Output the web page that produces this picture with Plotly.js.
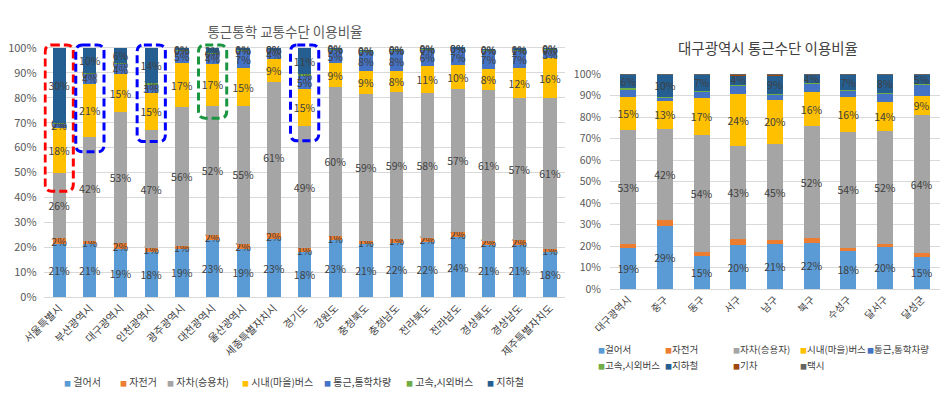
<!DOCTYPE html>
<html><head><meta charset="utf-8">
<script src="https://cdn.plot.ly/plotly-3.0.1.min.js"></script>
<style>html,body{margin:0;padding:0;background:#fff}#chart{width:941px;height:395px}</style>
</head><body><div id="chart"></div>
<script>
// ---------- Left chart: 통근통학 교통수단 이용비율 (시도별) ----------
const regions = ['서울특별시','부산광역시','대구광역시','인천광역시','광주광역시','대전광역시','울산광역시','세종특별자치시','경기도','강원도','충청북도','충청남도','전라북도','전라남도','경상북도','경상남도','제주특별자치도'];
const natNames = ['걸어서','자전거','자차(승용차)','시내(마을)버스','통근,통학차량','고속,시외버스','지하철'];
const natWalk    = [21.3, 21.2, 19.2, 18.2, 19.3, 22.8, 19.4, 23.2, 18.2, 22.9, 21.2, 21.8, 22.2, 24.0, 21.0, 20.9, 18.1];
const natBike    = [2.2, 1.3, 2.3, 1.4, 1.3, 2.1, 2.0, 2.4, 1.3, 1.4, 1.3, 1.4, 1.6, 2.0, 1.6, 1.8, 1.3];
const natCar     = [26.2, 41.8, 52.6, 47.3, 55.8, 51.9, 55.3, 60.8, 49.0, 60.2, 59.2, 59.1, 58.3, 57.4, 60.6, 57.1, 60.6];
const natBus     = [18.1, 21.2, 15.3, 15.2, 17.4, 16.8, 15.2, 9.1, 15.2, 9.3, 9.2, 8.4, 10.8, 9.6, 8.4, 12.2, 15.8];
const natCommute = [1.8, 4.2, 4.3, 3.2, 5.3, 4.2, 7.1, 3.7, 5.1, 5.4, 7.6, 8.1, 6.3, 6.6, 7.4, 6.8, 3.4];
const natExpress = [0.2, 0.4, 0.2, 0.6, 0.4, 0.3, 0.3, 0.3, 0.6, 0.4, 0.3, 0.4, 0.4, 0.3, 0.4, 0.6, 0.4];
const natSubway  = [30.2, 9.9, 6.1, 14.1, 0.3, 1.9, 0.4, 0.3, 10.6, 0.2, 0.2, 0.2, 0.2, 0.1, 0.1, 0.3, 0.2];

// ---------- Right chart: 대구광역시 통근수단 이용비율 ----------
const districts = ['대구광역시','중구','동구','서구','남구','북구','수성구','달서구','달성군'];
const dgNames = ['걸어서','자전거','자차(승용자)','시내(마을)버스','통근,통학차량','고속,시외버스','지하철','기차','택시'];
const dgWalk    = [19.2, 29.4, 15.2, 20.3, 21.0, 21.6, 17.8, 19.6, 15.0];
const dgBike    = [1.7, 2.5, 2.2, 3.0, 1.6, 1.9, 1.1, 1.4, 1.7];
const dgCar     = [53.0, 42.4, 54.3, 43.1, 44.9, 52.4, 54.3, 52.4, 64.2];
const dgBus     = [15.4, 13.3, 17.2, 24.4, 20.4, 15.6, 16.3, 13.7, 8.9];
const dgCommute = [3.6, 1.5, 2.8, 4.0, 2.4, 4.0, 2.6, 3.8, 5.1];
const dgExpress = [0.4, 0.3, 0.6, 0.3, 0.5, 0.5, 0.5, 0.4, 0.3];
const dgSubway  = [6.3, 10.4, 7.4, 4.3, 8.6, 3.7, 7.1, 8.4, 4.6];
const dgTrain   = [0.1, 0.1, 0.1, 0.4, 0.4, 0.1, 0.1, 0.1, 0.1];
const dgTaxi    = [0.3, 0.1, 0.2, 0.2, 0.2, 0.2, 0.2, 0.2, 0.1];
const dgLabeled = [true, false, true, true, false, false, true, false, false];

// ---------- styles ----------
const FONT = '"Noto Sans CJK KR", "Noto Sans", sans-serif';
const colors = ['#5B9BD5','#ED7D31','#A5A5A5','#FFC000','#4472C4','#70AD47','#255E91','#9E480E','#636363'];
const natSeries = [natWalk, natBike, natCar, natBus, natCommute, natExpress, natSubway];
const dgSeries = [dgWalk, dgBike, dgCar, dgBus, dgCommute, dgExpress, dgSubway, dgTrain, dgTaxi];

const traces = [];
natSeries.forEach((vals, i) => {
  traces.push({
    type: 'bar', x: regions, y: vals, name: natNames[i], xaxis: 'x', yaxis: 'y',
    marker: {color: colors[i]}, showlegend: false,
    texttemplate: '%{y:.0f}%', textposition: 'inside', insidetextanchor: 'middle', textangle: 0,
    constraintext: 'none', cliponaxis: false,
    textfont: {family: FONT, size: 10.5, color: '#404040'},
    hovertemplate: '%{x}<br>' + natNames[i] + ': %{y:.1f}%<extra></extra>'
  });
});
dgSeries.forEach((vals, i) => {
  traces.push({
    type: 'bar', x: districts, y: vals, name: dgNames[i], xaxis: 'x2', yaxis: 'y2',
    marker: {color: colors[i]}, showlegend: false,
    texttemplate: dgLabeled[i] ? '%{y:.0f}%' : '', textposition: dgLabeled[i] ? 'inside' : 'none',
    insidetextanchor: 'middle', textangle: 0, constraintext: 'none', cliponaxis: false,
    textfont: {family: FONT, size: 10.5, color: '#404040'},
    hovertemplate: '%{x}<br>' + dgNames[i] + ': %{y:.1f}%<extra></extra>'
  });
});

// ---------- layout helpers ----------
const W = 941, H = 395;
const px = x => x / W;
const py = y => (H - y) / H;

// rounded dashed highlight boxes (category index, bottom %, top %)
function roundBox(ci, y0, y1) {
  const hw = 0.46, rx = 0.22, ry = 2.8;
  const xl = ci - hw, xr = ci + hw;
  return `M${xl + rx},${y1} L${xr - rx},${y1} Q${xr},${y1} ${xr},${y1 - ry} L${xr},${y0 + ry} Q${xr},${y0} ${xr - rx},${y0} L${xl + rx},${y0} Q${xl},${y0} ${xl},${y0 + ry} L${xl},${y1 - ry} Q${xl},${y1} ${xl + rx},${y1} Z`;
}
const boxes = [
  {ci: 0, y0: 42.5, y1: 101.2, c: '#FF0000'},
  {ci: 1, y0: 58.3, y1: 101.2, c: '#0000FF'},
  {ci: 3, y0: 62.4, y1: 101.2, c: '#0000FF'},
  {ci: 5, y0: 71.8, y1: 101.2, c: '#1A9641'},
  {ci: 8, y0: 62.7, y1: 101.2, c: '#0000FF'}
];
const shapes = boxes.map(b => ({
  type: 'path', xref: 'x', yref: 'y', path: roundBox(b.ci, b.y0, b.y1),
  line: {color: b.c, width: 3, dash: '8px,4px'}, layer: 'above'
}));

// legends as annotations
const annotations = [];
const natLegX = [62, 118, 165, 240, 322, 404, 485];
natNames.forEach((n, i) => {
  annotations.push({
    xref: 'paper', yref: 'paper', x: px(natLegX[i]), y: py(381), xanchor: 'left', yanchor: 'middle',
    showarrow: false, align: 'left',
    text: `<span style="color:${colors[i]};font-size:7px">■</span> ${n}`,
    font: {family: FONT, size: 10, color: '#404040'}
  });
});
const dgLegX = [596, 663, 731, 798, 865];
dgNames.forEach((n, i) => {
  const row = Math.floor(i / 5), col = i % 5;
  annotations.push({
    xref: 'paper', yref: 'paper', x: px(dgLegX[col]), y: py(row === 0 ? 349 : 365), xanchor: 'left', yanchor: 'middle',
    showarrow: false, align: 'left',
    text: `<span style="color:${colors[i]};font-size:7px">■</span>${n}`,
    font: {family: FONT, size: 9.5, color: '#404040'}
  });
});
annotations.push({
  xref: 'paper', yref: 'paper', x: px(768), y: py(48), xanchor: 'center', yanchor: 'middle',
  showarrow: false, text: '대구광역시 통근수단 이용비율',
  font: {family: FONT, size: 14.5, color: '#404040'}
});

const layout = {
  width: W, height: H,
  margin: {l: 0, r: 0, t: 0, b: 0},
  paper_bgcolor: '#ffffff', plot_bgcolor: '#ffffff',
  font: {family: FONT, color: '#404040'},
  barmode: 'stack', bargap: 0.57,
  showlegend: false,
  title: {text: '통근통학 교통수단 이용비율', x: px(285), xanchor: 'center', y: py(32), yanchor: 'middle',
          font: {family: FONT, size: 13.5, color: '#595959'}},
  xaxis: {domain: [px(43.6), px(565.4)], anchor: 'y', type: 'category', tickangle: -45,
          tickfont: {family: FONT, size: 10.5, color: '#404040'}, showline: true, linecolor: '#D9D9D9',
          ticks: '', showgrid: false, fixedrange: true},
  yaxis: {domain: [py(297), py(43)], anchor: 'x', range: [0, 102], dtick: 10, ticksuffix: '%',
          gridcolor: '#D9D9D9', zeroline: false, showline: false, ticks: '', ticklabelstandoff: 6,
          tickfont: {family: FONT, size: 11, color: '#595959'}, fixedrange: true},
  xaxis2: {domain: [px(610), px(940)], anchor: 'y2', type: 'category', tickangle: -45,
          tickfont: {family: FONT, size: 10, color: '#404040'}, showline: true, linecolor: '#D9D9D9',
          ticks: '', showgrid: false, fixedrange: true},
  yaxis2: {domain: [py(289), py(74)], anchor: 'x2', range: [0, 100], dtick: 10, ticksuffix: '%',
          gridcolor: '#D9D9D9', zeroline: false, showline: false, ticks: '', ticklabelstandoff: 8,
          tickfont: {family: FONT, size: 10.5, color: '#595959'}, fixedrange: true},
  shapes: shapes,
  annotations: annotations
};

Plotly.newPlot('chart', traces, layout, {displayModeBar: false, responsive: false});
</script>
</body></html>
